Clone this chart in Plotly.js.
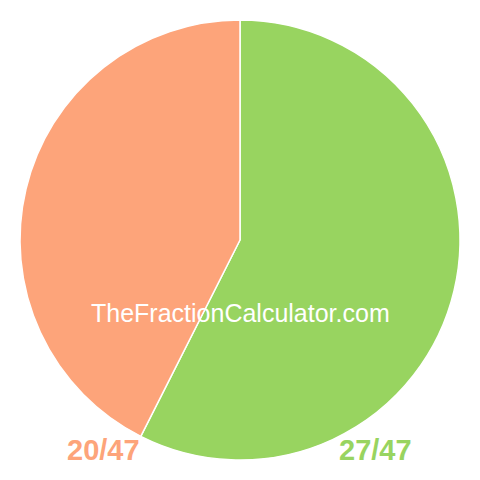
<!DOCTYPE html>
<html>
<head>
<meta charset="utf-8">
<script src="https://cdn.plot.ly/plotly-3.0.1.min.js"></script>
<style>
  html, body { margin: 0; padding: 0; background: #fff; }
  #chart { width: 480px; height: 480px; }
</style>
</head>
<body>
<div id="chart"></div>
<script>
// fraction parts
var numerators = [27, 20];
var denominator = 47;
var sliceColors = ['rgb(152, 212, 96)', 'rgb(253, 164, 122)'];
var watermark = 'TheFractionCalculator.com';

var labels = numerators.map(function(n) { return n + '/' + denominator; });

var pie_trace = {
    type: 'pie',
    values: numerators,
    labels: labels,
    sort: false,
    direction: 'clockwise',
    rotation: 0,
    textinfo: 'none',
    hoverinfo: 'none',
    marker: {
        colors: sliceColors,
        line: { color: '#ffffff', width: 1.5 }
    }
};

// label positions: green on the right, salmon on the left
var labelX = [375, 103];

var annotations = [{
    text: watermark,
    x: 240, y: 480 - 313,
    showarrow: false,
    font: { family: 'Liberation Sans, Arial, sans-serif', size: 25, color: '#ffffff' }
}];
labels.forEach(function(lab, i) {
    annotations.push({
        text: '<b>' + lab + '</b>',
        x: labelX[i], y: 480 - 450,
        showarrow: false,
        font: { family: 'Liberation Sans, Arial, sans-serif', size: 29, color: sliceColors[i] }
    });
});

// convert pixel positions to paper coords
annotations.forEach(function(a) {
    a.xref = 'paper'; a.yref = 'paper';
    a.x = (a.x - 20) / 440;
    a.y = (a.y - 20) / 440;
    a.xanchor = 'center';
    a.yanchor = 'middle';
});

var pie_layout = {
    width: 480,
    height: 480,
    margin: { l: 20, r: 20, t: 20, b: 20 },
    showlegend: false,
    paper_bgcolor: '#ffffff',
    annotations: annotations
};

Plotly.newPlot('chart', [pie_trace], pie_layout, { displayModeBar: false, staticPlot: true });
</script>
</body>
</html>
